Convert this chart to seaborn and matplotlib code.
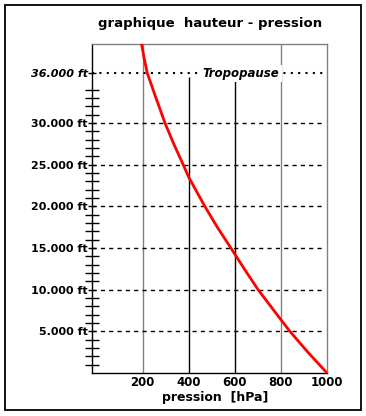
import matplotlib
matplotlib.use("Agg")
import matplotlib.pyplot as plt
import seaborn as sns
import pandas as pd
from matplotlib.patches import Rectangle
from matplotlib.ticker import FixedLocator

# ---- data ----
pressure_hpa = [1000, 917, 839, 800, 701, 641, 583, 524, 470, 400, 376, 335, 297, 258, 220, 207, 195]
altitude_ft = [0, 2500, 5000, 6400, 10000, 12500, 15000, 17500, 20000, 23500, 25000, 27500, 30000, 33000, 36000, 37700, 39500]
x_ticks = [200, 400, 600, 800, 1000]
x_tick_labels = ["200", "400", "600", "800", "1000"]
y_major = [5000, 10000, 15000, 20000, 25000, 30000, 36000]
y_major_labels = ["5.000 ft", "10.000 ft", "15.000 ft", "20.000 ft", "25.000 ft", "30.000 ft", "36.000 ft"]
y_minor = [v for v in range(1000, 36000, 1000) if v % 5000 != 0]
grid_levels = [5000, 10000, 15000, 20000, 25000, 30000]
tropopause_ft = 36000
title = "graphique  hauteur - pression"
x_label = "pression  [hPa]"

sns.set_theme(style="white")
plt.rcParams["font.family"] = ["DejaVu Sans"]
plt.rcParams["lines.scale_dashes"] = False

df = pd.DataFrame({"p": pressure_hpa, "alt": altitude_ft})

fig = plt.figure(figsize=(3.66, 4.16), dpi=100)
fig.patch.set_facecolor("white")
ax = fig.add_axes([92 / 366, 43 / 416, 235 / 366, 329 / 416])
ax.set_xlim(-20, 1000)
ax.set_ylim(0, 39500)

# vertical grid lines
for xv, col, top in [(200, "#808080", 39500), (800, "#808080", 39500), (400, "black", 35500), (600, "black", 35500)]:
    ax.vlines(xv, 0, top, colors=col, linewidth=1.0, zorder=1)

# horizontal dashed lines
for yv in grid_levels:
    ax.hlines(yv, -20, 993, colors="black", linewidth=1.0, linestyles=(0, (3, 3)), zorder=1)

# tropopause dotted line
ax.hlines(tropopause_ft, -20, 1000, colors="black", linewidth=1.5, linestyles=(0, (1.5, 3.8)), zorder=1)
ax.text(627, tropopause_ft, "Tropopause", ha="center", va="center", fontsize=8.5,
        style="italic", fontweight="bold", color="black",
        bbox=dict(facecolor="white", edgecolor="none", pad=1.5), zorder=3)

# curve
sns.lineplot(data=df, x="p", y="alt", ax=ax, color="red", linewidth=2.0, sort=False, zorder=4)
ax.set_xlabel("")
ax.set_ylabel("")

# spines
for side in ["left", "bottom"]:
    ax.spines[side].set_color("black")
    ax.spines[side].set_linewidth(1.0)
for side in ["top", "right"]:
    ax.spines[side].set_color("#808080")
    ax.spines[side].set_linewidth(1.0)

# ticks
ax.xaxis.set_major_locator(FixedLocator(x_ticks))
ax.set_xticklabels(x_tick_labels, fontsize=8.5, fontweight="bold")
ax.tick_params(axis="x", length=0, pad=2, labelcolor="black")

ax.yaxis.set_major_locator(FixedLocator(y_major))
ax.yaxis.set_minor_locator(FixedLocator(y_minor))
labels = ax.set_yticklabels(y_major_labels, fontsize=8, fontweight="bold")
labels[-1].set_style("italic")
ax.tick_params(axis="y", which="both", direction="inout", length=9.5, width=1.0, color="black",
               labelcolor="black", left=True, pad=0)
ax.tick_params(axis="y", which="major", length=6)

# title and x label
fig.text(210 / 366, 1 - 23 / 416, title, ha="center", va="center", fontsize=9.5, fontweight="bold", color="black")
fig.text(215 / 366, 1 - 397 / 416, x_label, ha="center", va="center", fontsize=9, fontweight="bold", color="black")

# outer border
fig.patches.append(Rectangle((5 / 366, 1 - 410 / 416), 356 / 366, 405 / 416, transform=fig.transFigure,
                             fill=False, edgecolor="black", linewidth=1.3))

fig.savefig("out.png", dpi=100)
